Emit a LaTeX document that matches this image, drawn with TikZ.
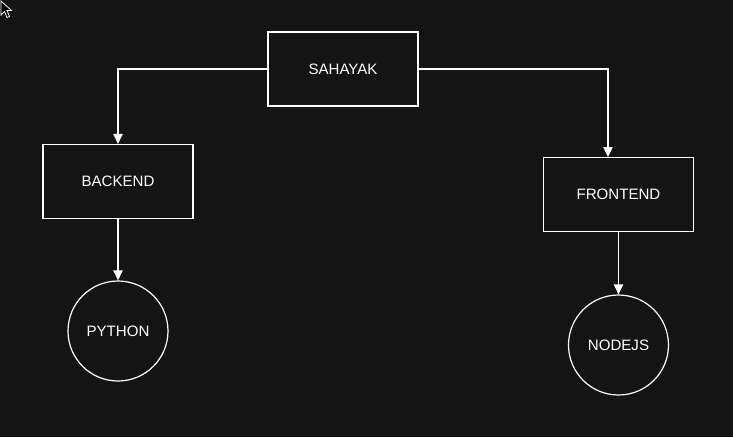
\documentclass[tikz,border=0pt]{standalone}
\usepackage{fontspec}
\setmainfont{Liberation Sans}
\usetikzlibrary{arrows.meta}
\definecolor{bg}{HTML}{141414}
\tikzset{
  box/.style={draw=white, line width=0.9pt, fill=bg, minimum width=112.5pt, minimum height=55.5pt, inner sep=0pt, text=white, font=\fontsize{11.3}{13}\selectfont},
  circ/.style={draw=white, line width=0.9pt, fill=bg, circle, minimum size=75pt, inner sep=0pt, text=white, font=\fontsize{11.3}{13}\selectfont},
  conn/.style={draw=white, line width=0.9pt, -{Triangle[width=7pt,length=7.5pt]}},
}
\begin{document}
\begin{tikzpicture}[x=0.75pt, y=-0.75pt]
\fill[bg] (0,0) rectangle (733,437);
\useasboundingbox (0,0) rectangle (733,437);
% cursor
\draw[white, fill=black, line width=0.6pt, line join=miter] (1,1) -- (1,15) -- (4.5,11.5) -- (7,17.5) -- (9.5,16.5) -- (7,10.5) -- (11.5,10.5) -- cycle;
\node[box] (sah) at (343,69) {SAHAYAK};
\node[box] (back) at (118,181.5) {BACKEND};
\node[box] (front) at (618.5,194.5) {FRONTEND};
\node[circ] (py) at (118,331) {PYTHON};
\node[circ] (nj) at (618.5,345) {NODEJS};
\coordinate (fin) at (608,157);
\draw[conn] (sah.west) -| (back.north);
\draw[conn] (sah.east) -| (fin);
\draw[conn] (back.south) -- (py.north);
\draw[conn] (front.south) -- (nj.north);
\end{tikzpicture}
\end{document}
